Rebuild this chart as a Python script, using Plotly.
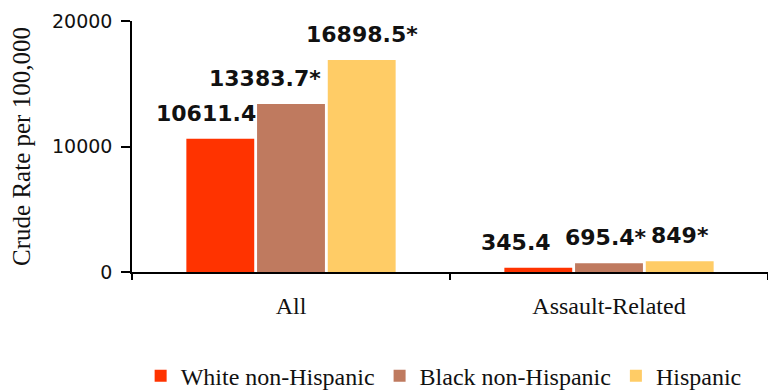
import plotly.graph_objects as go

categories = ["All", "Assault-Related"]
series_names = ["White non-Hispanic", "Black non-Hispanic", "Hispanic"]
white_vals = [10611.4, 345.4]
black_vals = [13383.7, 695.4]
hisp_vals = [16898.5, 849]
white_labels = ["10611.4", "345.4"]
black_labels = ["13383.7*", "695.4*"]
hisp_labels = ["16898.5*", "849*"]
y_ticks = [0, 10000, 20000]

colors = ["#ff3300", "#bf7a5f", "#ffcc66"]
values = [white_vals, black_vals, hisp_vals]
labels = [white_labels, black_labels, hisp_labels]

W, H = 768, 392
ML, MR, MT, MB = 132, 0, 21, 120
BARGAP, GROUPGAP = 0.333, 0.04
plot_w = W - ML - MR
slot = plot_w / len(categories) * (1 - BARGAP) / 3
# small horizontal nudges of labels (style only)
nudges = [[-14, -22], [-26, -3], [0, 0]]

fig = go.Figure()
for i, (name, vals, col) in enumerate(zip(series_names, values, colors)):
    fig.add_trace(go.Bar(
        x=categories, y=vals, name=name,
        marker=dict(color=col, line=dict(width=0)),
    ))

annotations = []
for i in range(3):
    for j, cat in enumerate(categories):
        annotations.append(dict(
            x=cat, y=values[i][j], xref="x", yref="y",
            text=labels[i][j], showarrow=False,
            xanchor="center", yanchor="bottom",
            xshift=(i - 1) * slot + nudges[i][j], yshift=11,
            font=dict(family="DejaVu Sans", size=22, color="#111111", weight="bold"),
        ))

fig.update_layout(
    width=W, height=H,
    margin=dict(l=ML, r=MR, t=MT, b=MB, autoexpand=False),
    paper_bgcolor="white", plot_bgcolor="white",
    barmode="group", bargap=BARGAP, bargroupgap=GROUPGAP,
    showlegend=True,
    legend=dict(orientation="h", x=0.49, xanchor="center",
                yref="paper", y=-0.415, yanchor="middle",
                font=dict(family="Liberation Serif", size=24, color="#111111"),
                itemclick=False, traceorder="normal"),
    annotations=annotations,
)
fig.update_xaxes(
    showline=True, linecolor="black", linewidth=1.5,
    ticks="outside", tickson="boundaries", ticklen=6, tickcolor="black", tickwidth=1.5,
    tickfont=dict(family="Liberation Serif", size=24, color="#111111"),
    ticklabelstandoff=11,
    showgrid=False,
)
fig.update_yaxes(
    range=[0, 20000], tickvals=y_ticks, ticktext=[str(v) for v in y_ticks],
    showline=True, linecolor="black", linewidth=1.5,
    ticks="outside", ticklen=9, tickcolor="black", tickwidth=1.5,
    tickfont=dict(family="DejaVu Sans", size=19, color="#111111"),
    ticklabelstandoff=5,
    showgrid=False, zeroline=False,
    title=dict(text="Crude Rate per 100,000", standoff=14,
               font=dict(family="Liberation Serif", size=25, color="#111111")),
)

fig.write_html("out.html")
